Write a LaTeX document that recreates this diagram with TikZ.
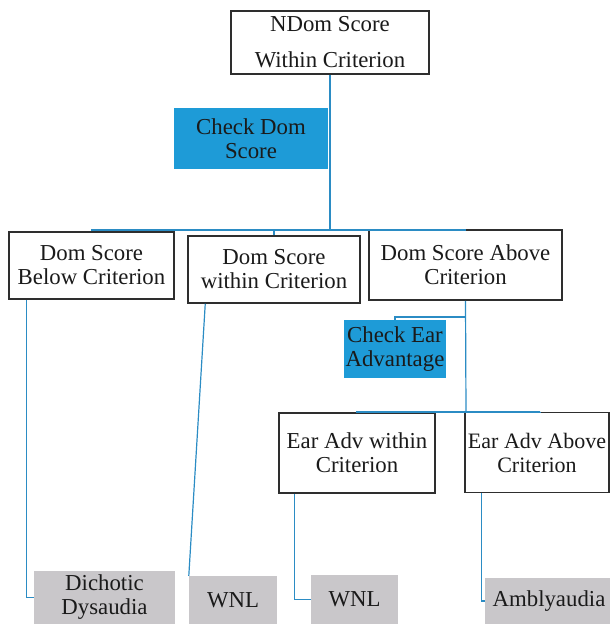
\documentclass[tikz,border=0pt]{standalone}
\usepackage{fontspec}
\setmainfont{Liberation Serif}
\definecolor{linkblue}{HTML}{2B8CC4}
\definecolor{checkblue}{HTML}{1E9BD7}
\definecolor{resultgray}{HTML}{C9C7CA}
\definecolor{edgegray}{HTML}{2E2E2E}
\definecolor{inkgray}{HTML}{1A1A1A}

\begin{document}
\begin{tikzpicture}[x=1pt, y=-1pt,
    every node/.style={font=\fontsize{22.8}{24}\selectfont, text=inkgray, align=center, inner sep=0pt},
    scorebox/.style={draw=edgegray, line width=1.5pt, fill=white},
    checkbox/.style={fill=checkblue},
    resultbox/.style={fill=resultgray},
    link/.style={draw=linkblue, line width=1.2pt}]
    \useasboundingbox (0,0) rectangle (610,624);

    % Top box
    \node[scorebox, minimum width=198pt, minimum height=63pt] (ndom) at (330,42.5) {NDom Score\\[12pt]Within Criterion};
    \node[checkbox, minimum width=154pt, minimum height=61pt] (chkdom) at (251,138.5) {Check Dom\\Score};

    % Second row
    \node[scorebox, minimum width=165pt, minimum height=67pt] (below) at (91.5,265.5) {Dom Score\\Below Criterion};
    \node[scorebox, minimum width=172pt, minimum height=67pt] (within) at (274,269.5) {Dom Score\\within Criterion};
    \node[scorebox, minimum width=193pt, minimum height=70pt] (above) at (465.5,265) {Dom Score Above\\Criterion};

    % Ear advantage
    \node[checkbox, minimum width=102pt, minimum height=58pt] (chkear) at (395,349) {Check Ear\\Advantage};
    \node[scorebox, minimum width=156pt, minimum height=80pt] (earwithin) at (357,453) {Ear Adv within\\Criterion};
    \node[scorebox, minimum width=144pt, minimum height=80pt, font=\fontsize{22}{24}\selectfont] (earabove) at (537,452.5) {Ear Adv Above\\Criterion};

    % Results
    \node[resultbox, minimum width=141pt, minimum height=53pt] (dichotic) at (104.5,597.5) {Dichotic\\Dysaudia};
    \node[resultbox, minimum width=88pt, minimum height=48pt] (wnlone) at (233,600) {WNL};
    \node[resultbox, minimum width=87pt, minimum height=49pt] (wnltwo) at (354.5,599.5) {WNL};
    \node[resultbox, minimum width=128pt, minimum height=46pt] (ambly) at (549,601) {Amblyaudia};

    % Branches from the top box
    \coordinate (fork) at (330,230);
    \draw[link] (ndom.south) -- (fork);
    \draw[link] (fork) -| (below.north);
    \draw[link] (fork) -| (within.north);
    \draw[link] (fork) -| (above.north);

    % Branches from the above box
    \coordinate (earspur) at (466,317);
    \coordinate (earfork) at (466,412);
    \draw[link] (above.south) -- (earfork);
    \draw[link] (earspur) -| (chkear.north);
    \draw[link] (earfork) -| (earwithin.north);
    \draw[link] (earfork) -| ([xshift=3pt]earabove.north);

    % Down to the results
    \draw[link] ([xshift=18pt]below.south west) |- (dichotic.west);
    \draw[link] ([xshift=18pt]within.south west) -- (wnlone.north west);
    \draw[link] ([xshift=16pt]earwithin.south west) |- (wnltwo.west);
    \draw[link] ([xshift=17pt]earabove.south west) |- (ambly.west);
\end{tikzpicture}
\end{document}
